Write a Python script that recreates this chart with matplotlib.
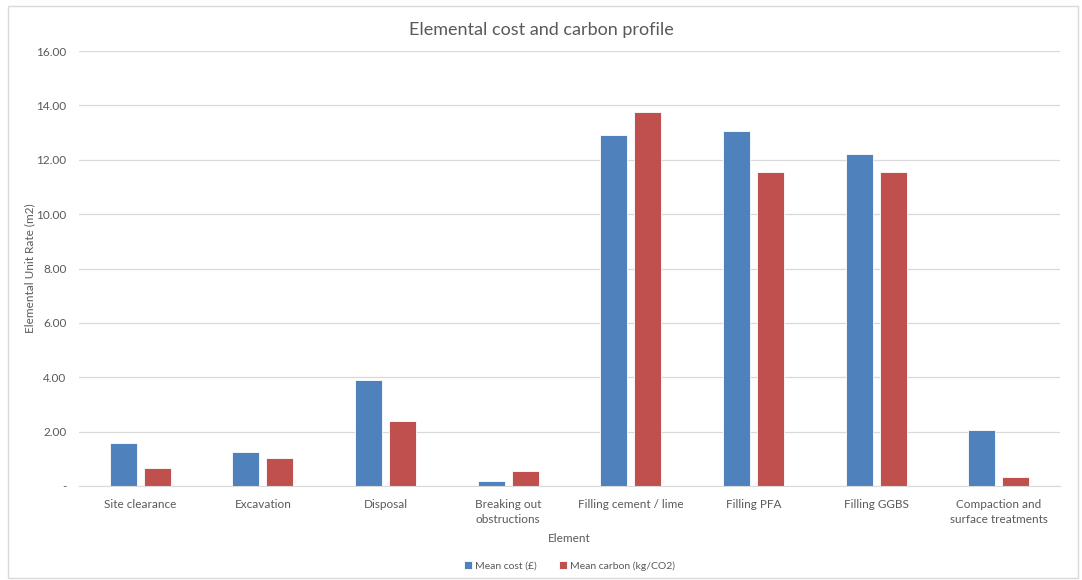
import matplotlib.pyplot as plt
import numpy as np
from matplotlib.patches import Rectangle

categories = ['Site clearance', 'Excavation', 'Disposal', 'Breaking out\nobstructions',
              'Filling cement / lime', 'Filling PFA', 'Filling GGBS',
              'Compaction and\nsurface treatments']
mean_cost = [1.57, 1.25, 3.91, 0.18, 12.92, 13.04, 12.22, 2.05]
mean_carbon = [0.65, 1.03, 2.38, 0.55, 13.75, 11.54, 11.54, 0.33]
y_ticks = [0, 2, 4, 6, 8, 10, 12, 14, 16]

plt.rcParams['font.family'] = ['Lato', 'DejaVu Sans']
txt = '#595959'
blue = '#4f81bd'
red = '#c0504d'

fig = plt.figure(figsize=(10.82, 5.80), dpi=100)
ax = fig.add_axes([79 / 1082, 1 - 486 / 580, 981 / 1082, 435 / 580])

# chart border like the Excel chart area
fig.patches.append(Rectangle((8 / 1082, 2 / 580), 1070 / 1082, 572 / 580,
                             transform=fig.transFigure, fill=False,
                             edgecolor='#d9d9d9', linewidth=1))

x = np.arange(len(categories))
w = 0.22
ax.bar(x - 0.139, mean_cost, w, color=blue, edgecolor='white', linewidth=0.6,
       label='Mean cost (£)', zorder=3)
ax.bar(x + 0.139, mean_carbon, w, color=red, edgecolor='white', linewidth=0.6,
       label='Mean carbon (kg/CO2)', zorder=3)

ax.set_xlim(-0.5, len(categories) - 0.5)
ax.set_ylim(0, 16)
ax.set_yticks(y_ticks)
ax.set_yticklabels(['-' if v == 0 else f'{v:.2f}' for v in y_ticks])
ax.set_xticks(x)
ax.set_xticklabels(categories, linespacing=1.5)
ax.tick_params(axis='both', length=0, labelsize=8.5, colors=txt)
ax.tick_params(axis='y', pad=9)
ax.tick_params(axis='x', pad=9)

ax.grid(axis='y', color='#d9d9d9', linewidth=0.9, zorder=0)
for s in ['top', 'right', 'left']:
    ax.spines[s].set_visible(False)
ax.spines['bottom'].set_color('#d9d9d9')
ax.spines['bottom'].set_zorder(4)

ax.set_xlabel('Element', fontsize=8.5, color=txt, labelpad=6)
ax.set_ylabel('Elemental Unit Rate (m2)', fontsize=8.5, color=txt)
ax.yaxis.set_label_coords(-44 / 981, 0.5)
fig.suptitle('Elemental cost and carbon profile', fontsize=13, color=txt, y=1 - 30 / 580,
             va='center')

ax.legend(loc='center', bbox_to_anchor=(0.5, (486 - 566) / 435), ncol=2, frameon=False,
          fontsize=7.5, labelcolor=txt, handlelength=0.7, handleheight=0.7,
          handletextpad=0.3, columnspacing=2.2)

fig.savefig('out.png', dpi=100)
